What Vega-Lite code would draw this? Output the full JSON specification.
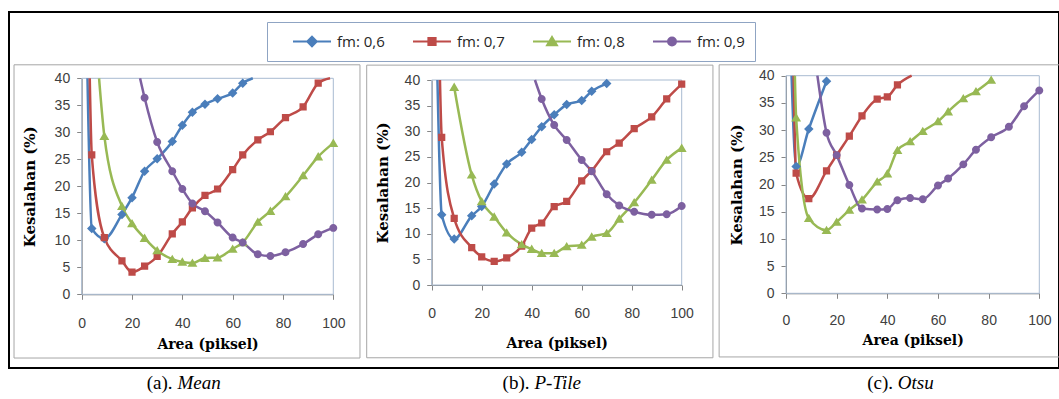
{
  "$schema": "https://vega.github.io/schema/vega-lite/v6.json",
  "width": 1050,
  "height": 356,
  "padding": {"left": 9, "top": 12, "right": 0, "bottom": 31},
  "autosize": {"type": "none"},
  "background": "white",
  "config": {
    "view": {"stroke": "black", "strokeWidth": 2},
    "axis": {
      "grid": false, "labelFont": "Liberation Sans", "labelFontSize": 14, "labelColor": "#404040",
      "titleFont": "DejaVu Serif", "titleFontWeight": "bold", "titleFontSize": 14, "titleColor": "black",
      "domainColor": "#868686", "tickColor": "#868686", "tickSize": 5, "labelFlush": false, "labelOverlap": false, "zindex": 1
    }
  },
  "datasets": {
    "d": [
      {"p":"a","s":"fm: 0,6","x":2.3,"y":40,"e":1},{"p":"a","s":"fm: 0,6","x":4,"y":12.2},{"p":"a","s":"fm: 0,6","x":9,"y":10.3},{"p":"a","s":"fm: 0,6","x":16,"y":14.8},{"p":"a","s":"fm: 0,6","x":20,"y":17.9},{"p":"a","s":"fm: 0,6","x":25,"y":22.8},{"p":"a","s":"fm: 0,6","x":30,"y":25.1},{"p":"a","s":"fm: 0,6","x":36,"y":28.3},{"p":"a","s":"fm: 0,6","x":40,"y":31.3},{"p":"a","s":"fm: 0,6","x":44,"y":33.7},{"p":"a","s":"fm: 0,6","x":49,"y":35.2},{"p":"a","s":"fm: 0,6","x":54,"y":36.2},{"p":"a","s":"fm: 0,6","x":60,"y":37.3},{"p":"a","s":"fm: 0,6","x":64,"y":39.1},{"p":"a","s":"fm: 0,6","x":68,"y":40,"e":1},
      {"p":"a","s":"fm: 0,7","x":3.2,"y":40,"e":1},{"p":"a","s":"fm: 0,7","x":4,"y":25.8},{"p":"a","s":"fm: 0,7","x":9,"y":10.5},{"p":"a","s":"fm: 0,7","x":16,"y":6.2},{"p":"a","s":"fm: 0,7","x":20,"y":4.1},{"p":"a","s":"fm: 0,7","x":25,"y":5.2},{"p":"a","s":"fm: 0,7","x":30,"y":7.0},{"p":"a","s":"fm: 0,7","x":36,"y":11.2},{"p":"a","s":"fm: 0,7","x":40,"y":13.4},{"p":"a","s":"fm: 0,7","x":44,"y":16.0},{"p":"a","s":"fm: 0,7","x":49,"y":18.3},{"p":"a","s":"fm: 0,7","x":54,"y":19.5},{"p":"a","s":"fm: 0,7","x":60,"y":23.1},{"p":"a","s":"fm: 0,7","x":64,"y":25.8},{"p":"a","s":"fm: 0,7","x":70,"y":28.6},{"p":"a","s":"fm: 0,7","x":75,"y":30.1},{"p":"a","s":"fm: 0,7","x":81,"y":32.7},{"p":"a","s":"fm: 0,7","x":88,"y":34.7},{"p":"a","s":"fm: 0,7","x":94,"y":39.1},{"p":"a","s":"fm: 0,7","x":98.7,"y":40,"e":1},
      {"p":"a","s":"fm: 0,8","x":6.9,"y":40,"e":1},{"p":"a","s":"fm: 0,8","x":9,"y":29.3},{"p":"a","s":"fm: 0,8","x":16,"y":16.3},{"p":"a","s":"fm: 0,8","x":20,"y":13.1},{"p":"a","s":"fm: 0,8","x":25,"y":10.4},{"p":"a","s":"fm: 0,8","x":30,"y":8.1},{"p":"a","s":"fm: 0,8","x":36,"y":6.5},{"p":"a","s":"fm: 0,8","x":40,"y":6.0},{"p":"a","s":"fm: 0,8","x":44,"y":5.8},{"p":"a","s":"fm: 0,8","x":49,"y":6.7},{"p":"a","s":"fm: 0,8","x":54,"y":6.8},{"p":"a","s":"fm: 0,8","x":60,"y":8.4},{"p":"a","s":"fm: 0,8","x":64,"y":9.6},{"p":"a","s":"fm: 0,8","x":70,"y":13.4},{"p":"a","s":"fm: 0,8","x":75,"y":15.4},{"p":"a","s":"fm: 0,8","x":81,"y":18.1},{"p":"a","s":"fm: 0,8","x":88,"y":22.0},{"p":"a","s":"fm: 0,8","x":94,"y":25.5},{"p":"a","s":"fm: 0,8","x":100,"y":28.0},
      {"p":"a","s":"fm: 0,9","x":23.2,"y":40,"e":1},{"p":"a","s":"fm: 0,9","x":25,"y":36.4},{"p":"a","s":"fm: 0,9","x":30,"y":28.2},{"p":"a","s":"fm: 0,9","x":36,"y":22.8},{"p":"a","s":"fm: 0,9","x":40,"y":19.5},{"p":"a","s":"fm: 0,9","x":44,"y":16.8},{"p":"a","s":"fm: 0,9","x":49,"y":15.4},{"p":"a","s":"fm: 0,9","x":54,"y":13.3},{"p":"a","s":"fm: 0,9","x":60,"y":10.5},{"p":"a","s":"fm: 0,9","x":64,"y":9.6},{"p":"a","s":"fm: 0,9","x":70,"y":7.4},{"p":"a","s":"fm: 0,9","x":75,"y":7.1},{"p":"a","s":"fm: 0,9","x":81,"y":7.8},{"p":"a","s":"fm: 0,9","x":88,"y":9.3},{"p":"a","s":"fm: 0,9","x":94,"y":11.1},{"p":"a","s":"fm: 0,9","x":100,"y":12.3},

      {"p":"b","s":"fm: 0,6","x":2.3,"y":40,"e":1},{"p":"b","s":"fm: 0,6","x":4,"y":13.7},{"p":"b","s":"fm: 0,6","x":9,"y":9.0},{"p":"b","s":"fm: 0,6","x":16,"y":13.5},{"p":"b","s":"fm: 0,6","x":20,"y":15.3},{"p":"b","s":"fm: 0,6","x":25,"y":19.7},{"p":"b","s":"fm: 0,6","x":30,"y":23.6},{"p":"b","s":"fm: 0,6","x":36,"y":25.9},{"p":"b","s":"fm: 0,6","x":40,"y":28.4},{"p":"b","s":"fm: 0,6","x":44,"y":30.9},{"p":"b","s":"fm: 0,6","x":49,"y":33.2},{"p":"b","s":"fm: 0,6","x":54,"y":35.2},{"p":"b","s":"fm: 0,6","x":60,"y":36.0},{"p":"b","s":"fm: 0,6","x":64,"y":37.8},{"p":"b","s":"fm: 0,6","x":70,"y":39.3},
      {"p":"b","s":"fm: 0,7","x":3.3,"y":40,"e":1},{"p":"b","s":"fm: 0,7","x":4,"y":28.8},{"p":"b","s":"fm: 0,7","x":9,"y":13.0},{"p":"b","s":"fm: 0,7","x":16,"y":7.3},{"p":"b","s":"fm: 0,7","x":20,"y":5.5},{"p":"b","s":"fm: 0,7","x":25,"y":4.6},{"p":"b","s":"fm: 0,7","x":30,"y":5.3},{"p":"b","s":"fm: 0,7","x":36,"y":7.6},{"p":"b","s":"fm: 0,7","x":40,"y":11.1},{"p":"b","s":"fm: 0,7","x":44,"y":12.1},{"p":"b","s":"fm: 0,7","x":49,"y":15.3},{"p":"b","s":"fm: 0,7","x":54,"y":16.3},{"p":"b","s":"fm: 0,7","x":60,"y":20.3},{"p":"b","s":"fm: 0,7","x":64,"y":22.3},{"p":"b","s":"fm: 0,7","x":70,"y":26.0},{"p":"b","s":"fm: 0,7","x":75,"y":27.7},{"p":"b","s":"fm: 0,7","x":81,"y":30.5},{"p":"b","s":"fm: 0,7","x":88,"y":32.8},{"p":"b","s":"fm: 0,7","x":94,"y":36.3},{"p":"b","s":"fm: 0,7","x":100,"y":39.2},
      {"p":"b","s":"fm: 0,8","x":9,"y":38.6},{"p":"b","s":"fm: 0,8","x":16,"y":21.5},{"p":"b","s":"fm: 0,8","x":20,"y":16.3},{"p":"b","s":"fm: 0,8","x":25,"y":13.3},{"p":"b","s":"fm: 0,8","x":30,"y":10.2},{"p":"b","s":"fm: 0,8","x":36,"y":7.9},{"p":"b","s":"fm: 0,8","x":40,"y":7.0},{"p":"b","s":"fm: 0,8","x":44,"y":6.2},{"p":"b","s":"fm: 0,8","x":49,"y":6.2},{"p":"b","s":"fm: 0,8","x":54,"y":7.5},{"p":"b","s":"fm: 0,8","x":60,"y":7.8},{"p":"b","s":"fm: 0,8","x":64,"y":9.4},{"p":"b","s":"fm: 0,8","x":70,"y":10.1},{"p":"b","s":"fm: 0,8","x":75,"y":12.9},{"p":"b","s":"fm: 0,8","x":81,"y":16.1},{"p":"b","s":"fm: 0,8","x":88,"y":20.5},{"p":"b","s":"fm: 0,8","x":94,"y":24.4},{"p":"b","s":"fm: 0,8","x":100,"y":26.7},
      {"p":"b","s":"fm: 0,9","x":41.3,"y":40,"e":1},{"p":"b","s":"fm: 0,9","x":44,"y":36.3},{"p":"b","s":"fm: 0,9","x":49,"y":31.2},{"p":"b","s":"fm: 0,9","x":54,"y":28.3},{"p":"b","s":"fm: 0,9","x":60,"y":24.4},{"p":"b","s":"fm: 0,9","x":64,"y":22.2},{"p":"b","s":"fm: 0,9","x":70,"y":17.7},{"p":"b","s":"fm: 0,9","x":75,"y":15.5},{"p":"b","s":"fm: 0,9","x":81,"y":14.3},{"p":"b","s":"fm: 0,9","x":88,"y":13.7},{"p":"b","s":"fm: 0,9","x":94,"y":13.8},{"p":"b","s":"fm: 0,9","x":100,"y":15.4},

      {"p":"c","s":"fm: 0,6","x":2.2,"y":40,"e":1},{"p":"c","s":"fm: 0,6","x":4,"y":23.3},{"p":"c","s":"fm: 0,6","x":9,"y":30.2},{"p":"c","s":"fm: 0,6","x":16,"y":39.0},
      {"p":"c","s":"fm: 0,7","x":3.0,"y":40,"e":1},{"p":"c","s":"fm: 0,7","x":4,"y":22.1},{"p":"c","s":"fm: 0,7","x":9,"y":17.4},{"p":"c","s":"fm: 0,7","x":16,"y":22.5},{"p":"c","s":"fm: 0,7","x":20,"y":25.4},{"p":"c","s":"fm: 0,7","x":25,"y":28.9},{"p":"c","s":"fm: 0,7","x":30,"y":32.6},{"p":"c","s":"fm: 0,7","x":36,"y":35.7},{"p":"c","s":"fm: 0,7","x":40,"y":36.1},{"p":"c","s":"fm: 0,7","x":44,"y":38.3},{"p":"c","s":"fm: 0,7","x":49.6,"y":40,"e":1},
      {"p":"c","s":"fm: 0,8","x":3.5,"y":40,"e":1},{"p":"c","s":"fm: 0,8","x":4,"y":32.3},{"p":"c","s":"fm: 0,8","x":9,"y":13.8},{"p":"c","s":"fm: 0,8","x":16,"y":11.6},{"p":"c","s":"fm: 0,8","x":20,"y":13.1},{"p":"c","s":"fm: 0,8","x":25,"y":15.3},{"p":"c","s":"fm: 0,8","x":30,"y":17.2},{"p":"c","s":"fm: 0,8","x":36,"y":20.5},{"p":"c","s":"fm: 0,8","x":40,"y":22.0},{"p":"c","s":"fm: 0,8","x":44,"y":26.3},{"p":"c","s":"fm: 0,8","x":49,"y":27.9},{"p":"c","s":"fm: 0,8","x":54,"y":29.8},{"p":"c","s":"fm: 0,8","x":60,"y":31.6},{"p":"c","s":"fm: 0,8","x":64,"y":33.4},{"p":"c","s":"fm: 0,8","x":70,"y":35.8},{"p":"c","s":"fm: 0,8","x":75,"y":37.1},{"p":"c","s":"fm: 0,8","x":81,"y":39.2},
      {"p":"c","s":"fm: 0,9","x":12.4,"y":40,"e":1},{"p":"c","s":"fm: 0,9","x":16,"y":29.5},{"p":"c","s":"fm: 0,9","x":20,"y":25.4},{"p":"c","s":"fm: 0,9","x":25,"y":19.9},{"p":"c","s":"fm: 0,9","x":30,"y":15.6},{"p":"c","s":"fm: 0,9","x":36,"y":15.4},{"p":"c","s":"fm: 0,9","x":40,"y":15.5},{"p":"c","s":"fm: 0,9","x":44,"y":17.1},{"p":"c","s":"fm: 0,9","x":49,"y":17.5},{"p":"c","s":"fm: 0,9","x":54,"y":17.3},{"p":"c","s":"fm: 0,9","x":60,"y":19.8},{"p":"c","s":"fm: 0,9","x":64,"y":21.1},{"p":"c","s":"fm: 0,9","x":70,"y":23.7},{"p":"c","s":"fm: 0,9","x":75,"y":26.4},{"p":"c","s":"fm: 0,9","x":81,"y":28.7},{"p":"c","s":"fm: 0,9","x":88,"y":30.6},{"p":"c","s":"fm: 0,9","x":94,"y":34.4},{"p":"c","s":"fm: 0,9","x":100,"y":37.3}
    ]
  },
  "data": {"name": "d"},
  "layer": [
    {
      "layer": [
        {"data": {"values": [{"k": 1}]}, "mark": {"type": "rect", "fill": "white", "fillOpacity": 0, "stroke": "#a6a6a6", "strokeWidth": 1},
         "encoding": {
           "x": {"datum": -26.9, "type": "quantitative", "axis": {"orient": "bottom", "offset": 0, "domain": false, "ticks": false, "labels": false, "title": "(a).", "titleFont": "Liberation Serif", "titleFontSize": 19, "titleFontWeight": "normal", "titleAlign": "right", "titleBaseline": "alphabetic", "titleX": 163, "titleY": 20, "titleAngle": 0}},
           "x2": {"datum": 110.6},
           "y": {"datum": 42.5, "type": "quantitative", "axis": null},
           "y2": {"datum": -11.8}}},
        {"data": {"values": [{"k": 1}]}, "mark": {"type": "rect", "fill": "white", "fillOpacity": 0, "stroke": "#a8bbd1", "strokeWidth": 1},
         "encoding": {
           "x": {"datum": 0, "type": "quantitative", "axis": {"orient": "bottom", "offset": 0, "domain": false, "ticks": false, "labels": false, "title": "Mean", "titleFont": "Liberation Serif", "titleFontSize": 19, "titleFontWeight": "normal", "titleFontStyle": "italic", "titleAlign": "left", "titleBaseline": "alphabetic", "titleX": 168, "titleY": 20, "titleAngle": 0}},
           "x2": {"datum": 100},
           "y": {"datum": 0, "type": "quantitative", "axis": null},
           "y2": {"datum": 40}}},
        {"transform": [{"filter": "datum.p === 'a'"}],
         "mark": {"type": "line", "interpolate": "monotone", "strokeWidth": 2.5},
         "encoding": {
           "x": {"field": "x", "type": "quantitative", "scale": {"domain": [0, 100], "range": [72.7, 324.3], "nice": false, "zero": false},
                 "axis": {"orient": "bottom", "offset": -73.7, "values": [0, 20, 40, 60, 80, 100], "title": "Area (piksel)", "labelPadding": 17, "titlePadding": 7}},
           "y": {"field": "y", "type": "quantitative", "scale": {"domain": [0, 40], "range": [282.3, 66.3], "nice": false, "zero": false},
                 "axis": {"orient": "left", "offset": -72.7, "values": [0, 5, 10, 15, 20, 25, 30, 35, 40], "title": "Kesalahan (%)", "titleFontSize": 15, "labelPadding": 7, "titlePadding": 17}},
           "color": {"field": "s", "type": "nominal",
                     "scale": {"domain": ["fm: 0,6", "fm: 0,7", "fm: 0,8", "fm: 0,9"], "range": ["#4A7EBB", "#BE4B48", "#98B954", "#7D60A0"]},
                     "legend": {"orient": "none", "legendX": 258, "legendY": 10, "direction": "horizontal", "title": null,
                                "padding": 10, "strokeColor": "#8fa4c3", "fillColor": "white", "cornerRadius": 0,
                                "symbolSize": 1444, "symbolStrokeWidth": 2, "symbolOpacity": 1, "clipHeight": 19, "symbolOffset": 15, "labelOffset": 5, "columnPadding": 12,
                                "labelFont": "Open Sans", "labelFontSize": 15, "labelColor": "#262626", "labelLimit": 200}}}},
        {"transform": [{"filter": "datum.p === 'a' && !datum.e"}],
         "mark": {"type": "point", "filled": true, "size": 1444, "opacity": 1, "strokeWidth": 0},
         "encoding": {
           "x": {"field": "x", "type": "quantitative", "axis": null},
           "y": {"field": "y", "type": "quantitative", "axis": null},
           "color": {"field": "s", "type": "nominal"},
           "shape": {"field": "s", "type": "nominal", "scale": {"domain": ["fm: 0,6", "fm: 0,7", "fm: 0,8", "fm: 0,9"],
             "range": ["M-1,0H1M0,-0.25L0.25,0L0,0.25L-0.25,0Z", "M-1,0H1M-0.19,-0.19H0.19V0.19H-0.19Z", "M-1,0H1M0,-0.24L0.26,0.2H-0.26Z", "M-1,0H1M-0.21,0A0.21,0.21 0 1,0 0.21,0A0.21,0.21 0 1,0 -0.21,0Z"]}, "legend": null}}}
      ],
      "resolve": {"axis": {"x": "independent", "y": "independent"}}
    },
    {
      "layer": [
        {"data": {"values": [{"k": 1}]}, "mark": {"type": "rect", "fill": "white", "fillOpacity": 0, "stroke": "#a6a6a6", "strokeWidth": 1},
         "encoding": {
           "x": {"datum": -26, "type": "quantitative", "axis": {"orient": "bottom", "offset": 0, "domain": false, "ticks": false, "labels": false, "title": "(b).", "titleFont": "Liberation Serif", "titleFontSize": 19, "titleFontWeight": "normal", "titleAlign": "right", "titleBaseline": "alphabetic", "titleX": 520, "titleY": 20, "titleAngle": 0}},
           "x2": {"datum": 112.5},
           "y": {"datum": 42.9, "type": "quantitative", "axis": null},
           "y2": {"datum": -14.2}}},
        {"data": {"values": [{"k": 1}]}, "mark": {"type": "rect", "fill": "white", "fillOpacity": 0, "stroke": "#a8bbd1", "strokeWidth": 1},
         "encoding": {
           "x": {"datum": 0, "type": "quantitative", "axis": {"orient": "bottom", "offset": 0, "domain": false, "ticks": false, "labels": false, "title": "P-Tile", "titleFont": "Liberation Serif", "titleFontSize": 19, "titleFontWeight": "normal", "titleFontStyle": "italic", "titleAlign": "left", "titleBaseline": "alphabetic", "titleX": 525, "titleY": 20, "titleAngle": 0}},
           "x2": {"datum": 100},
           "y": {"datum": 0, "type": "quantitative", "axis": null},
           "y2": {"datum": 40}}},
        {"transform": [{"filter": "datum.p === 'b'"}],
         "mark": {"type": "line", "interpolate": "monotone", "strokeWidth": 2.5},
         "encoding": {
           "x": {"field": "x", "type": "quantitative", "scale": {"domain": [0, 100], "range": [422.7, 672.7], "nice": false, "zero": false},
                 "axis": {"orient": "bottom", "offset": -83, "values": [0, 20, 40, 60, 80, 100], "title": "Area (piksel)", "labelPadding": 16, "titlePadding": 16}},
           "y": {"field": "y", "type": "quantitative", "scale": {"domain": [0, 40], "range": [273, 68], "nice": false, "zero": false},
                 "axis": {"orient": "left", "offset": -422.7, "values": [0, 5, 10, 15, 20, 25, 30, 35, 40], "title": "Kesalahan (%)", "titleFontSize": 15, "labelPadding": 7, "titlePadding": 14}},
           "color": {"field": "s", "type": "nominal"}}},
        {"transform": [{"filter": "datum.p === 'b' && !datum.e"}],
         "mark": {"type": "point", "filled": true, "size": 1444, "opacity": 1, "strokeWidth": 0},
         "encoding": {
           "x": {"field": "x", "type": "quantitative", "axis": null},
           "y": {"field": "y", "type": "quantitative", "axis": null},
           "color": {"field": "s", "type": "nominal"},
           "shape": {"field": "s", "type": "nominal", "legend": null}}}
      ],
      "resolve": {"axis": {"x": "independent", "y": "independent"}}
    },
    {
      "layer": [
        {"data": {"values": [{"k": 1}]}, "mark": {"type": "rect", "fill": "white", "fillOpacity": 0, "stroke": "#a6a6a6", "strokeWidth": 1},
         "encoding": {
           "x": {"datum": -26.4, "type": "quantitative", "axis": {"orient": "bottom", "offset": 0, "domain": false, "ticks": false, "labels": false, "title": "(c).", "titleFont": "Liberation Serif", "titleFontSize": 19, "titleFontWeight": "normal", "titleAlign": "right", "titleBaseline": "alphabetic", "titleX": 883.6, "titleY": 20, "titleAngle": 0}},
           "x2": {"datum": 115},
           "y": {"datum": 42.0, "type": "quantitative", "axis": null},
           "y2": {"datum": -11.7}}},
        {"data": {"values": [{"k": 1}]}, "mark": {"type": "rect", "fill": "white", "fillOpacity": 0, "stroke": "#a8bbd1", "strokeWidth": 1},
         "encoding": {
           "x": {"datum": 0, "type": "quantitative", "axis": {"orient": "bottom", "offset": 0, "domain": false, "ticks": false, "labels": false, "title": "Otsu", "titleFont": "Liberation Serif", "titleFontSize": 19, "titleFontWeight": "normal", "titleFontStyle": "italic", "titleAlign": "left", "titleBaseline": "alphabetic", "titleX": 888.3, "titleY": 20, "titleAngle": 0}},
           "x2": {"datum": 100},
           "y": {"datum": 0, "type": "quantitative", "axis": null},
           "y2": {"datum": 40}}},
        {"transform": [{"filter": "datum.p === 'c'"}],
         "mark": {"type": "line", "interpolate": "monotone", "strokeWidth": 2.5},
         "encoding": {
           "x": {"field": "x", "type": "quantitative", "scale": {"domain": [0, 100], "range": [777, 1030.3], "nice": false, "zero": false},
                 "axis": {"orient": "bottom", "offset": -74.7, "values": [0, 20, 40, 60, 80, 100], "title": "Area (piksel)", "labelPadding": 15, "titlePadding": 6}},
           "y": {"field": "y", "type": "quantitative", "scale": {"domain": [0, 40], "range": [281.3, 63.7], "nice": false, "zero": false},
                 "axis": {"orient": "left", "offset": -777, "values": [0, 5, 10, 15, 20, 25, 30, 35, 40], "title": "Kesalahan (%)", "titleFontSize": 15, "labelPadding": 7, "titlePadding": 14}},
           "color": {"field": "s", "type": "nominal"}}},
        {"transform": [{"filter": "datum.p === 'c' && !datum.e"}],
         "mark": {"type": "point", "filled": true, "size": 1444, "opacity": 1, "strokeWidth": 0},
         "encoding": {
           "x": {"field": "x", "type": "quantitative", "axis": null},
           "y": {"field": "y", "type": "quantitative", "axis": null},
           "color": {"field": "s", "type": "nominal"},
           "shape": {"field": "s", "type": "nominal", "legend": null}}}
      ],
      "resolve": {"axis": {"x": "independent", "y": "independent"}}
    }
  ],
  "resolve": {"scale": {"x": "independent", "y": "independent"}, "axis": {"x": "independent", "y": "independent"}}
}
